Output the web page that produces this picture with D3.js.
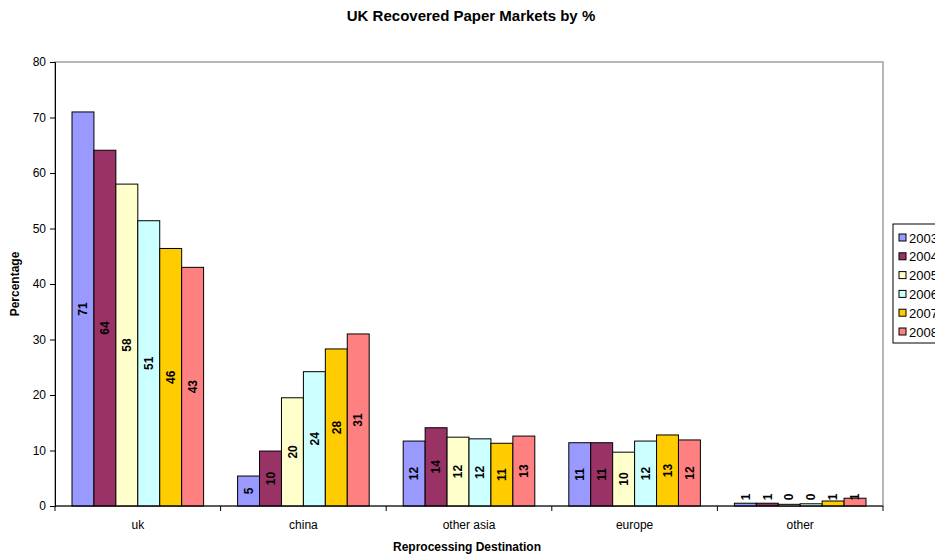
<!DOCTYPE html>
<html>
<head>
<meta charset="utf-8">
<script src="https://cdn.jsdelivr.net/npm/d3@7"></script>
<style>
  body { margin: 0; background: #fff; }
  svg { font-family: Arial, "Liberation Sans", sans-serif; }
</style>
</head>
<body>
<div id="chart"></div>
<script>
// recovered paper markets, % by destination per year

var categories = ['uk', 'china', 'other asia', 'europe', 'other'];
var years = ['2003', '2004', '2005', '2006', '2007', '2008'];
var colors = ['#9999FF', '#993366', '#FFFFCC', '#CCFFFF', '#FFCC00', '#FF8080'];

var v2003 = [71.0, 5.4, 11.7, 11.4, 0.5];
var v2004 = [64.1, 9.9, 14.1, 11.4, 0.5];
var v2005 = [58.0, 19.5, 12.4, 9.7, 0.3];
var v2006 = [51.4, 24.2, 12.1, 11.7, 0.4];
var v2007 = [46.4, 28.3, 11.3, 12.8, 0.9];
var v2008 = [43.0, 31.0, 12.6, 11.9, 1.4];
var seriesValues = [v2003, v2004, v2005, v2006, v2007, v2008];

var yTicks = [0, 10, 20, 30, 40, 50, 60, 70, 80];

var width = 935, height = 555;
var margin = { top: 62, right: 52, bottom: 49, left: 55 };
var plotW = width - margin.left - margin.right;
var plotH = height - margin.top - margin.bottom;

var svg = d3.select('#chart').append('svg')
  .attr('width', width)
  .attr('height', height);

var x0 = d3.scaleBand().domain(categories).range([0, plotW]).paddingInner(0).paddingOuter(0);
var x1 = d3.scaleBand().domain(years).range([17, x0.bandwidth() - 17]).padding(0);
var y = d3.scaleLinear().domain([0, 80]).range([plotH, 0]);

var g = svg.append('g').attr('transform', 'translate(' + margin.left + ',' + margin.top + ')');

// plot border (grey on top / right)
g.append('rect')
  .attr('x', 0).attr('y', 0)
  .attr('width', plotW).attr('height', plotH)
  .attr('fill', 'none')
  .attr('stroke', '#a0a0a0')
  .attr('stroke-width', 1.5);

// bars
var groups = g.selectAll('g.cat')
  .data(categories)
  .enter().append('g')
  .attr('class', 'cat')
  .attr('transform', function(d) { return 'translate(' + x0(d) + ',0)'; });

groups.each(function(cat, ci) {
  var grp = d3.select(this);
  var rows = years.map(function(yr, si) {
    return { year: yr, value: seriesValues[si][ci], color: colors[si] };
  });

  grp.selectAll('rect')
    .data(rows)
    .enter().append('rect')
    .attr('x', function(d) { return x1(d.year); })
    .attr('y', function(d) { return y(d.value); })
    .attr('width', x1.bandwidth())
    .attr('height', function(d) { return y(0) - y(d.value); })
    .attr('fill', function(d) { return d.color; })
    .attr('stroke', '#000')
    .attr('stroke-width', 1);

  grp.selectAll('text.lbl')
    .data(rows)
    .enter().append('text')
    .attr('class', 'lbl')
    .attr('transform', function(d) {
      var cx = x1(d.year) + x1.bandwidth() / 2;
      var cy = Math.min((y(d.value) + y(0)) / 2, y(0) - 9);
      return 'translate(' + cx + ',' + cy + ') rotate(-90)';
    })
    .attr('text-anchor', 'middle')
    .attr('dy', '0.35em')
    .style('font-size', '12px')
    .style('font-weight', 'bold')
    .text(function(d) { return Math.round(d.value); });
});

// y axis
var yAxis = g.append('g')
  .call(d3.axisLeft(y).tickValues(yTicks).tickSize(5).tickPadding(4));
yAxis.select('.domain').attr('stroke', '#000');
yAxis.selectAll('text').style('font-size', '12px').attr('fill', '#000');

// x axis with ticks on category boundaries
var xAxis = g.append('g').attr('transform', 'translate(0,' + plotH + ')');
xAxis.append('line')
  .attr('x1', 0).attr('x2', plotW)
  .attr('stroke', '#000');
var bounds = categories.map(function(c) { return x0(c); }).concat([plotW]);
xAxis.selectAll('line.tk')
  .data(bounds)
  .enter().append('line')
  .attr('class', 'tk')
  .attr('x1', function(d) { return d; }).attr('x2', function(d) { return d; })
  .attr('y1', 0).attr('y2', 5)
  .attr('stroke', '#000');
xAxis.selectAll('text')
  .data(categories)
  .enter().append('text')
  .attr('x', function(d) { return x0(d) + x0.bandwidth() / 2; })
  .attr('y', 23)
  .attr('text-anchor', 'middle')
  .style('font-size', '12px')
  .text(function(d) { return d; });

// titles
svg.append('text')
  .attr('x', 471).attr('y', 21)
  .attr('text-anchor', 'middle')
  .style('font-size', '15px')
  .style('font-weight', 'bold')
  .text('UK Recovered Paper Markets by %');

svg.append('text')
  .attr('x', 467).attr('y', 551)
  .attr('text-anchor', 'middle')
  .style('font-size', '12px')
  .style('font-weight', 'bold')
  .text('Reprocessing Destination');

svg.append('text')
  .attr('transform', 'translate(19,284) rotate(-90)')
  .attr('text-anchor', 'middle')
  .style('font-size', '12px')
  .style('font-weight', 'bold')
  .text('Percentage');

// legend (runs off the right edge like the original)
var legend = svg.append('g').attr('transform', 'translate(893,224)');
legend.append('rect')
  .attr('width', 60).attr('height', 119)
  .attr('fill', '#fff')
  .attr('stroke', '#000');
var items = legend.selectAll('g.item')
  .data(years)
  .enter().append('g')
  .attr('class', 'item')
  .attr('transform', function(d, i) { return 'translate(0,' + (14 + i * 18.8) + ')'; });
items.append('rect')
  .attr('x', 6).attr('y', -4)
  .attr('width', 7).attr('height', 7)
  .attr('fill', function(d, i) { return colors[i]; })
  .attr('stroke', '#000');
items.append('text')
  .attr('x', 16).attr('y', 0)
  .attr('dy', '0.35em')
  .style('font-size', '13px')
  .text(function(d) { return d; });
</script>
</body>
</html>
